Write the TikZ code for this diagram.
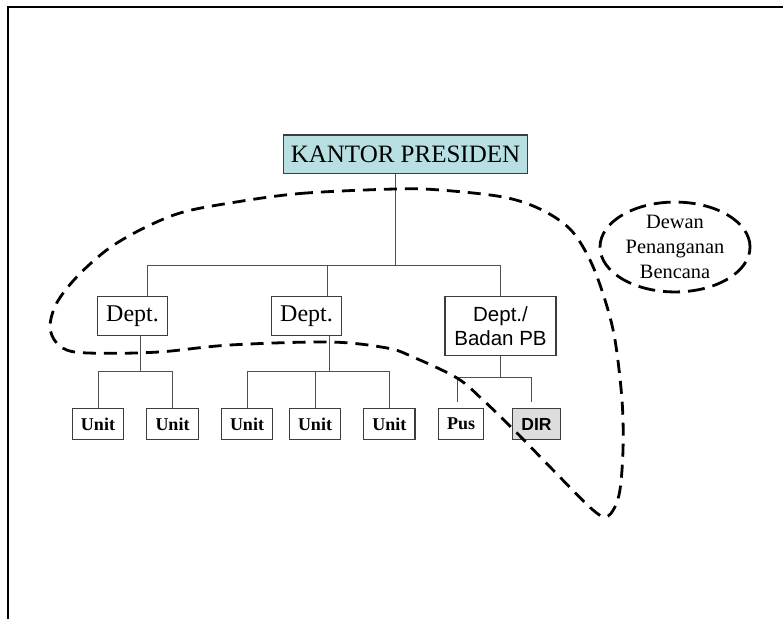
\documentclass[tikz,border=0pt]{standalone}
\usepackage{fontspec}
\setmainfont{Liberation Serif}
\setsansfont{Liberation Sans}
\usetikzlibrary{shapes.geometric}
\definecolor{kpfill}{RGB}{184,224,227}
\definecolor{dirfill}{RGB}{221,221,221}
\definecolor{boxc}{RGB}{60,60,60}
\definecolor{connc}{RGB}{80,80,80}
\begin{document}
\begin{tikzpicture}[x=1pt,y=-1pt,
  box/.style={draw=boxc, line width=1.1pt, inner sep=0pt},
  deptbox/.style={box, minimum width=70pt, minimum height=38.3pt, font=\fontsize{24}{28}\selectfont},
  unitbox/.style={box, minimum height=30.8pt, font=\fontsize{18}{21}\selectfont\bfseries},
  conn/.style={draw=connc, line width=1pt},
  blob/.style={draw=black, line width=2.8pt, dash pattern=on 13pt off 8pt},
]
\useasboundingbox (0,0) rectangle (783,619);
% frame
\draw[line width=2pt] (8,619) -- (8,6.5) -- (783,6.5);

% nodes
\node[box, minimum width=244pt, minimum height=38.7pt, fill=kpfill,
      font=\fontsize{25}{30}\selectfont] (kp) at (405.5,154.3) {KANTOR PRESIDEN};
\node[deptbox] (d1) at (132.5,316) {Dept.};
\node[deptbox] (d2) at (306.5,316) {Dept.};
\node[box, minimum width=111pt, minimum height=58.4pt, align=center,
      font=\sffamily\fontsize{20.5}{23.7}\selectfont] (d3) at (500.5,326.1) {Dept./\\Badan PB};

\node[unitbox, minimum width=51pt] (u1) at (98,424) {Unit};
\node[unitbox, minimum width=52pt] (u2) at (172.5,424) {Unit};
\node[unitbox, minimum width=51pt] (u3) at (247,424) {Unit};
\node[unitbox, minimum width=51pt] (u4) at (315,424) {Unit};
\node[unitbox, minimum width=51.5pt] (u5) at (389.25,424) {Unit};
\node[unitbox, minimum width=45pt] (pus) at (461,424) {Pus};
\node[unitbox, minimum width=48pt, fill=dirfill, font=\sffamily\fontsize{17.5}{21}\selectfont\bfseries] (dir) at (536.5,424) {DIR};

\node[ellipse, draw=black, line width=2.8pt, dash pattern=on 17pt off 8pt,
      minimum width=150pt, minimum height=88pt, inner sep=0pt, align=center,
      font=\fontsize{20.4}{25}\selectfont] (dw) at (675,247) {Dewan\\Penanganan\\Bencana};

% connectors
\coordinate (j0) at (395,265.3);
\coordinate (h1) at (147,265.3);
\coordinate (h2) at (327.5,265.3);
\draw[conn] (kp.south -| j0) -- (j0);
\draw[conn] (d1.north -| h1) -- (h1) -- (h1 -| d3.north) -- (d3.north);
\draw[conn] (h2) -- (d2.north -| h2);

\coordinate (s1) at (140.5,371.1);
\draw[conn] (d1.south -| s1) -- (s1);
\draw[conn] (u1.north) -- (u1.north |- s1) -- (u2.north |- s1) -- (u2.north);

\coordinate (s2) at (329.5,371.1);
\draw[conn] (d2.south -| s2) -- (s2);
\draw[conn] (u3.north) -- (u3.north |- s2) -- (u5.north |- s2) -- (u5.north);
\draw[conn] (u4.north) -- (u4.north |- s2);

\coordinate (s3) at (500.5,377.8);
\coordinate (p1) at (457,401.9);
\coordinate (p2) at (531,401.9);
\draw[conn] (d3.south) -- (s3);
\draw[conn] (p1) -- (p1 |- s3) -- (p2 |- s3) -- (p2);

% dashed grouping outline
\draw[blob] plot[smooth cycle, tension=0.55] coordinates {
 (230,203) (300,193.5) (395,189) (440,190) (503,197) (540,209) (570,229)
 (590,260) (605,300) (615,340) (622,400) (623,450) (619,495) (608,516)
 (593,510) (553,470) (517,433) (483,400) (457,378) (413,357) (387,348)
 (330,342) (230,345) (163,351.7) (113,353.3) (73,351.7) (56.7,343)
 (50,326.7) (56.7,303) (76.7,277) (106.7,250) (140,230) (180,213)};
\end{tikzpicture}
\end{document}
